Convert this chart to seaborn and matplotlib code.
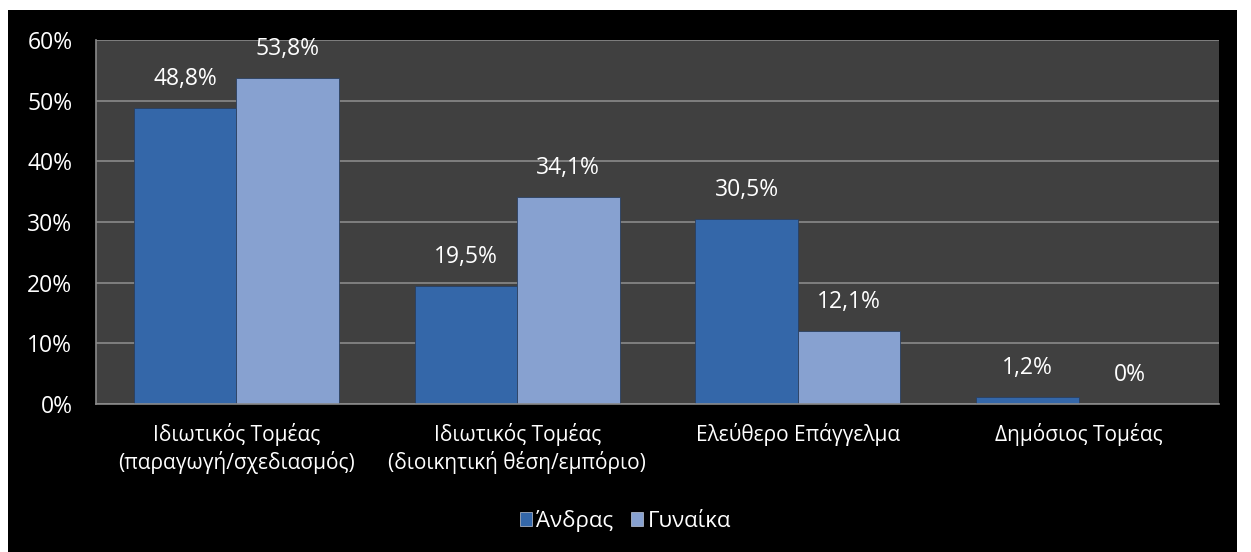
import seaborn as sns
import matplotlib.pyplot as plt
import matplotlib.patches as mpatches
import pandas as pd

# data
categories = ['Ιδιωτικός Τομέας\n(παραγωγή/σχεδιασμός)',
              'Ιδιωτικός Τομέας\n(διοικητική θέση/εμπόριο)',
              'Ελεύθερο Επάγγελμα',
              'Δημόσιος Τομέας']
men = [48.8, 19.5, 30.5, 1.2]
women = [53.8, 34.1, 12.1, 0]
series = ['Άνδρας', 'Γυναίκα']
colors = ['#3467a9', '#87a1d0']
yticks = [0, 10, 20, 30, 40, 50, 60]

df = pd.DataFrame({
    'category': categories * 2,
    'value': men + women,
    'series': [series[0]] * 4 + [series[1]] * 4,
})

sns.set_style('dark')
plt.rcParams['font.family'] = ['Open Sans', 'DejaVu Sans']

fig = plt.figure(figsize=(12.51, 5.52), dpi=100, facecolor='white')
# black chart area inside a thin white margin
fig.patches.append(mpatches.Rectangle((8 / 1251, 0), 1229 / 1251, 542 / 552,
                                      transform=fig.transFigure,
                                      facecolor='black', edgecolor='none', zorder=-1))
ax = fig.add_axes([96 / 1251, 1 - 404 / 552, 1123 / 1251, 364 / 552])
ax.set_facecolor('#404040')

sns.barplot(data=df, x='category', y='value', hue='series', palette=colors,
            width=0.73, gap=0, ax=ax, legend=False, saturation=1,
            edgecolor='#2a3f60', linewidth=0.6)

# value labels
for container in ax.containers:
    labels = []
    for bar in container:
        v = bar.get_height()
        txt = f'{v:.1f}'.replace('.', ',') + '%' if v != 0 else '0%'
        labels.append(txt)
    ax.bar_label(container, labels=labels, padding=12, color='white', fontsize=16.5)

ax.set_ylim(0, 60)
ax.set_yticks(yticks)
ax.set_yticklabels([f'{t}%' for t in yticks], color='white', fontsize=16.5)
ax.tick_params(axis='y', length=0, pad=17)
ax.tick_params(axis='x', length=0, pad=14, labelcolor='white', labelsize=15)
for lbl in ax.get_xticklabels():
    lbl.set_linespacing(1.25)
ax.set_xlabel('')
ax.set_ylabel('')
ax.grid(axis='y', color='#8a8a8a', linewidth=1.2)
ax.grid(axis='x', visible=False)
ax.set_axisbelow(True)
for side in ['top', 'right']:
    ax.spines[side].set_visible(False)
for side in ['left', 'bottom']:
    ax.spines[side].set_visible(True)
    ax.spines[side].set_color('#8a8a8a')
    ax.spines[side].set_linewidth(1.2)

handles = [mpatches.Patch(facecolor=c, edgecolor='#c0c8d8', linewidth=0.5, label=s)
           for c, s in zip(colors, series)]
leg = fig.legend(handles=handles, loc='center', bbox_to_anchor=(0.5, 1 - 521 / 552),
                 ncol=2, frameon=False, fontsize=16, handlelength=0.55,
                 handleheight=0.55, handletextpad=0.2, columnspacing=0.8)
for t in leg.get_texts():
    t.set_color('white')

fig.savefig('out.png', dpi=100, facecolor='white')
